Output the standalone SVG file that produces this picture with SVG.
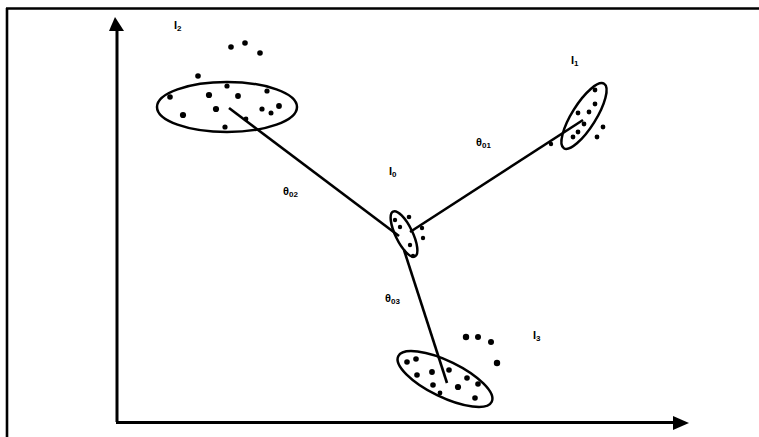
<svg xmlns="http://www.w3.org/2000/svg" width="759" height="437" viewBox="0 0 759 437">
<style>
.frame{stroke:#000;stroke-width:2.6;fill:none}
.axis{stroke:#000;stroke-width:3;fill:none}
.conn{stroke:#000;stroke-width:2.6;fill:none}
.ell{stroke:#000;stroke-width:2.5;fill:none}
.dot{fill:#000}
.lbl{font-family:"Liberation Sans",Arial,sans-serif;font-weight:bold;font-size:11px;fill:#000}
.sub{font-size:8px}
</style>
<rect width="759" height="437" fill="#fff"/>
<g id="frame">
<path class="frame" d="M6,8.5 H759 M7,8 V437"/>
</g>
<g id="axes">
<path class="axis" d="M117,422 V30"/>
<path d="M115,17 L109,31 L124,31 Z" fill="#000"/>
<path class="axis" d="M116,422.5 H674"/>
<path d="M689,423 L673,416 L673,430 Z" fill="#000"/>
</g>
<g id="connectors">
<path class="conn" d="M229,108 L399,236"/>
<path class="conn" d="M410,232 L583,120"/>
<path class="conn" d="M404,250 L447,383"/>
</g>
<g id="I2">
<ellipse class="ell" cx="227" cy="107" rx="70" ry="25"/>
<g class="dot">
<circle cx="198" cy="76" r="2.8"/><circle cx="170" cy="97" r="2.8"/><circle cx="209" cy="95" r="3.1"/>
<circle cx="227" cy="86" r="2.6"/><circle cx="238" cy="96" r="2.9"/><circle cx="267" cy="91" r="2.6"/>
<circle cx="183" cy="115" r="3.1"/><circle cx="216" cy="109" r="3.1"/><circle cx="262" cy="109" r="2.6"/>
<circle cx="271" cy="113" r="2.5"/><circle cx="279" cy="106" r="2.9"/><circle cx="225" cy="127" r="2.6"/>
<circle cx="246" cy="119" r="2.4"/>
<circle cx="231" cy="47" r="2.8"/><circle cx="245" cy="43" r="2.8"/><circle cx="260" cy="53" r="2.8"/>
</g>
<text class="lbl" x="174" y="29">I<tspan class="sub" dy="2">2</tspan></text>
</g>
<g id="I1">
<ellipse class="ell" cx="584" cy="116" rx="38" ry="12" transform="rotate(-58 584 116)"/>
<g class="dot">
<circle cx="595" cy="90" r="2.4"/><circle cx="595" cy="104" r="2.4"/><circle cx="589" cy="112" r="2.4"/>
<circle cx="578" cy="113" r="2.4"/><circle cx="584" cy="124" r="2.4"/><circle cx="578" cy="132" r="2.4"/>
<circle cx="573" cy="137" r="2.4"/><circle cx="603" cy="127" r="2.4"/><circle cx="597" cy="137" r="2.4"/>
<circle cx="551" cy="144" r="2.2"/>
</g>
<text class="lbl" x="571" y="64">I<tspan class="sub" dy="2">1</tspan></text>
</g>
<g id="I0">
<ellipse class="ell" cx="404" cy="234" rx="25" ry="8.5" transform="rotate(64 404 234)"/>
<g class="dot">
<circle cx="409" cy="217" r="2.3"/><circle cx="422" cy="228" r="2.2"/><circle cx="423" cy="238" r="2.2"/>
<circle cx="395" cy="220" r="2.2"/><circle cx="400" cy="227" r="2.2"/><circle cx="410" cy="245" r="2.2"/>
<circle cx="413" cy="256" r="2.2"/>
</g>
<text class="lbl" x="389" y="175">I<tspan class="sub" dy="2">0</tspan></text>
</g>
<g id="I3">
<ellipse class="ell" cx="445" cy="379" rx="52" ry="18" transform="rotate(26 445 379)"/>
<g class="dot">
<circle cx="407" cy="362" r="2.8"/><circle cx="416" cy="359" r="2.8"/><circle cx="417" cy="375" r="2.8"/>
<circle cx="432" cy="372" r="2.9"/><circle cx="449" cy="370" r="2.8"/><circle cx="433" cy="385" r="2.8"/>
<circle cx="458" cy="387" r="3.1"/><circle cx="467" cy="378" r="2.8"/><circle cx="478" cy="384" r="2.8"/>
<circle cx="475" cy="398" r="2.8"/><circle cx="440" cy="393" r="2.4"/>
<circle cx="466" cy="337" r="3.2"/><circle cx="478" cy="337" r="3"/><circle cx="491" cy="342" r="3"/>
<circle cx="497" cy="363" r="3.2"/>
</g>
<text class="lbl" x="533" y="339">I<tspan class="sub" dy="2">3</tspan></text>
</g>
<g id="labels">
<text class="lbl" x="476" y="146">θ<tspan class="sub" dy="2">01</tspan></text>
<text class="lbl" x="283" y="195">θ<tspan class="sub" dy="2">02</tspan></text>
<text class="lbl" x="385" y="302">θ<tspan class="sub" dy="2">03</tspan></text>
</g>
</svg>
